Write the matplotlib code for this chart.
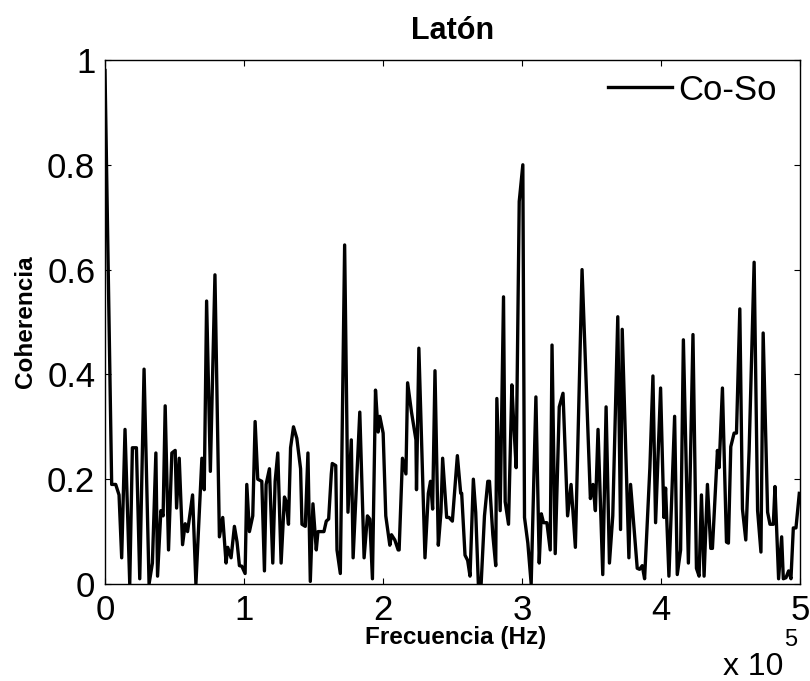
import matplotlib
matplotlib.use("Agg")
import matplotlib.pyplot as plt
import numpy as np

plt.rcParams['font.family'] = ['Liberation Sans', 'DejaVu Sans']

# frecuencia (kHz) y coherencia
freq_khz = [
    0, 4.8, 7.7, 10.1, 12.0, 14.4, 17.8, 19.7, 22.6, 25.0, 28.1, 31.7, 34.1, 36.6,
    37.8, 40.2, 41.8, 43.3, 45.7, 48.1, 50.5, 51.5, 53.4, 55.8, 57.7, 59.4, 63.0,
    65.4, 69.7, 71.4, 73.1, 75.8, 79.1,
    82.3, 84.7, 87.1, 88.3, 90.7, 93.1, 95.0, 96.7, 98.4, 100.8, 102.0, 103.9,
    106.3, 108.0, 109.9, 112.8, 114.7, 115.9, 118.3, 120.7, 122.4, 124.3, 126.7,
    129.1, 130.4, 132.0, 133.5, 135.6, 138.0, 140.7, 141.7, 144.1, 146.0, 147.7,
    149.6, 152.0, 153.2, 155.6, 157.5, 159.2, 160.9, 162.8,
    163.5, 166.0, 166.9, 169.3, 172.4, 174.8, 177.2, 178.5, 183.3, 186.4, 188.8,
    190.5, 192.4, 194.6, 196.5, 197.7, 200.1, 202.0, 204.9, 206.1, 208.5, 210.9,
    211.6, 214.0, 216.5, 217.7, 220.5, 223.7, 224.1, 225.8, 230.2, 232.6, 234.2,
    235.7, 237.4, 239.8, 241.7, 242.9,
    245.8, 247.5, 249.9, 253.5, 255.9, 256.6, 259.0, 260.9, 262.6, 265.0, 266.7,
    268.6, 270.6, 273.0, 275.4, 276.6, 279.0, 281.1, 281.9, 284.3, 286.7, 287.9,
    290.3, 292.7, 293.9, 295.8, 298.0, 300.6, 301.8, 304.2, 306.6, 310.0, 312.4,
    313.9, 315.5, 317.9, 320.3, 321.6, 323.9, 326.8,
    329.5, 332.8, 335.3, 338.4, 343.2, 349.2, 351.1, 352.8, 354.7, 358.1, 360.5,
    362.9, 365.3, 368.9, 370.9, 372.1, 376.9, 378.1, 382.9, 384.6, 386.5, 388.2,
    392.0, 394.2, 396.1, 399.7, 402.1, 403.3, 405.7, 409.8,
    411.7, 414.1, 416.1, 419.7, 423.0, 425.5, 427.4, 429.1, 431.0, 433.4, 435.8,
    437.0, 440.6, 441.8, 444.2, 447.1, 448.5, 450.2, 452.6, 454.3, 456.7, 458.6,
    461.0, 463.4, 467.0, 469.5, 471.9, 473.5, 476.7, 478.4, 480.8, 482.0, 484.6,
    486.8, 488.0, 489.9, 491.8, 493.5, 495.2, 497.1, 499.5,
]
coh = [
    0.98, 0.19, 0.19, 0.17, 0.05, 0.295, 0.0, 0.26, 0.26, 0.01, 0.41, 0.0, 0.04, 0.25,
    0.015, 0.14, 0.13, 0.34, 0.065, 0.25, 0.255, 0.145, 0.24, 0.075, 0.115, 0.10, 0.17,
    0.0, 0.24, 0.18, 0.54, 0.215, 0.59,
    0.09, 0.127, 0.04, 0.07, 0.05, 0.11, 0.08, 0.035, 0.034, 0.02, 0.19, 0.1,
    0.13, 0.31, 0.2, 0.196, 0.025, 0.19, 0.22, 0.04, 0.196, 0.25, 0.04,
    0.166, 0.157, 0.114, 0.26, 0.30, 0.278, 0.22, 0.114, 0.11, 0.25, 0.005,
    0.153, 0.065, 0.10, 0.10, 0.10, 0.12, 0.124, 0.21,
    0.23, 0.226, 0.065, 0.02, 0.647, 0.137, 0.275, 0.05, 0.328, 0.05, 0.13,
    0.124, 0.01, 0.37, 0.29, 0.32, 0.288, 0.13, 0.074, 0.094, 0.084, 0.065,
    0.065, 0.24, 0.21, 0.384, 0.328, 0.275, 0.18, 0.45, 0.05, 0.173, 0.196,
    0.143, 0.407, 0.074, 0.137, 0.24,
    0.127, 0.127, 0.12, 0.245, 0.173, 0.173, 0.055, 0.045, 0.015, 0.2, 0.137,
    0.0, 0.0, 0.13, 0.196, 0.196, 0.094, 0.035, 0.354, 0.14, 0.548, 0.157,
    0.114, 0.38, 0.314, 0.222, 0.73, 0.80, 0.127, 0.078, 0.0, 0.357, 0.04,
    0.134, 0.117, 0.117, 0.065, 0.456, 0.058, 0.338,
    0.364, 0.13, 0.19, 0.07, 0.60, 0.163, 0.19, 0.14, 0.295, 0.018, 0.338,
    0.04, 0.13, 0.51, 0.104, 0.486, 0.05, 0.19, 0.03, 0.028, 0.035, 0.01,
    0.222, 0.397, 0.117, 0.374, 0.127, 0.183, 0.015, 0.32,
    0.018, 0.065, 0.466, 0.04, 0.476, 0.03, 0.015, 0.17, 0.015, 0.19, 0.068,
    0.068, 0.255, 0.222, 0.374, 0.08, 0.078, 0.262, 0.288, 0.288, 0.525, 0.143,
    0.084, 0.255, 0.614, 0.14, 0.061, 0.479, 0.137, 0.114, 0.114, 0.186, 0.01,
    0.09, 0.01, 0.012, 0.025, 0.01, 0.107, 0.107, 0.173,
]
xticks = [0, 1e5, 2e5, 3e5, 4e5, 5e5]
xticklabels = ['0', '1', '2', '3', '4', '5']
yticks = [0, 0.2, 0.4, 0.6, 0.8, 1]
yticklabels = ['0', '0.2', '0.4', '0.6', '0.8', '1']

freq = np.array(freq_khz) * 1e3

fig = plt.figure(figsize=(8.1, 6.81), dpi=100)
ax = fig.add_axes([105 / 810, 1 - 584 / 681, 695 / 810, 524 / 681])
ax.plot(freq, coh, color='black', lw=2.4, label='Co-So')

ax.set_xlim(0, 5e5)
ax.set_ylim(0, 1)
ax.set_xticks(xticks)
ax.set_xticklabels(xticklabels)
ax.set_yticks(yticks)
ax.set_yticklabels(yticklabels)
ax.tick_params(direction='in', top=True, right=True, length=4, width=0.8,
               labelsize=25, pad=7)
for s in ax.spines.values():
    s.set_linewidth(1.0)

ax.set_title('Latón', fontsize=22, fontweight='bold', pad=15)
ax.set_xlabel('Frecuencia (Hz)', fontsize=17.5, fontweight='bold')
ax.xaxis.set_label_coords(0.505, -0.08)
ax.set_ylabel('Coherencia', fontsize=17.5, fontweight='bold')
ax.yaxis.set_label_coords(-0.098, 0.5)

ax.legend(loc='upper right', bbox_to_anchor=(0.967, 0.974), frameon=False,
          fontsize=25, handlelength=1.84, handletextpad=0.2, borderpad=0,
          borderaxespad=0)

fig.text(723 / 810, 1 - 675 / 681, 'x 10', fontsize=23, va='baseline', ha='left')
fig.text(784 / 810, 1 - 646 / 681, '5', fontsize=17, va='baseline', ha='left')

fig.savefig('out.png', dpi=100)
plt.close(fig)
